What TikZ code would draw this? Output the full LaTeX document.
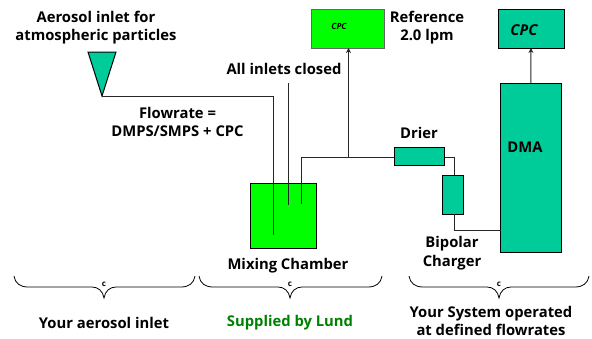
\documentclass[tikz,border=0pt]{standalone}
\usepackage{fontspec}
\setmainfont{Open Sans}
\usetikzlibrary{arrows.meta}
\definecolor{teal1}{RGB}{0,204,153}
\definecolor{lime1}{RGB}{0,255,0}
\definecolor{green1}{RGB}{0,128,0}
\tikzset{
 txt/.style={font=\fontsize{14.8}{18}\selectfont\bfseries,text=black,inner sep=0pt,align=center},
 boxed/.style={draw=black,line width=1pt,inner sep=0pt,outer sep=0pt},
 pipe/.style={draw=black!85,line width=1pt},
 arr/.style={pipe,-{Stealth[length=5pt,width=5pt]}},
 brc/.style={draw=black,line width=0.8pt}
}
\newcommand{\mybrace}[3]{% left, right, tip
 \draw[brc] (#1,276) .. controls (#1+1,283) and (#1+6,287) .. (#1+14,287) -- (#3-12,287)
   .. controls (#3-6,287) and (#3-1,291) .. (#3,298)
   .. controls (#3+1,291) and (#3+6,287) .. (#3+12,287) -- (#2-14,287)
   .. controls (#2-6,287) and (#2-1,283) .. (#2,276);
 \node[font=\fontsize{8}{9}\selectfont\bfseries,inner sep=0pt] at (#3,284) {c};
}
\begin{document}
\begin{tikzpicture}[x=1pt,y=-1pt]
\useasboundingbox (0,0) rectangle (592,338);
% boxes
\node[boxed,fill=lime1,minimum width=66pt,minimum height=65pt] (mix) at (283,215.5) {};
\node[boxed,fill=lime1,draw=black!60,minimum width=73pt,minimum height=39pt] (cpcA) at (347.5,28.5) {};
\node[font=\fontsize{8.5}{10}\selectfont\bfseries\itshape,inner sep=0pt] (cpcAt) at (339,26.5) {CPC};
\node[boxed,fill=teal1,minimum width=66pt,minimum height=39pt] (cpcB) at (531,28.5) {};
\node[font=\fontsize{15}{18}\selectfont\bfseries\itshape,inner sep=0pt] (cpcBt) at (524,30) {CPC};
\node[boxed,fill=teal1,minimum width=60.5pt,minimum height=169pt] (dma) at (530.75,167.5) {};
\node[txt] (dmat) at (525,147) {DMA};
\node[boxed,fill=teal1,minimum width=50.5pt,minimum height=18pt] (drier) at (419.25,156) {};
\node[boxed,fill=teal1,minimum width=21pt,minimum height=39pt] (charger) at (452.5,194.5) {};
% inlet
\coordinate (apex) at (102,96);
\coordinate (bend1) at (273,96);
\coordinate (in1) at (273,235);
\coordinate (in2t) at (288,83);
\coordinate (in2) at (288,205);
\coordinate (in3) at (301,204);
\coordinate (c3) at (301,157);
\coordinate (tee) at (348.5,157);
\coordinate (d1) at (454,157);
\coordinate (d2) at (454,214);
\coordinate (d3) at (454,230.5);
\coordinate (dmaL) at (500.5,230.5);
\draw[boxed,fill=teal1] (88,52) -- (116,52) -- (apex) -- cycle;
\draw[pipe] (apex) -- (bend1) -- (in1);
\draw[pipe] (in2t) -- (in2);
\draw[pipe] (in3) -- (c3) -- (drier.west |- c3);
\draw[arr] (tee) -- (cpcA.south -| tee);
\draw[pipe] (drier.east |- d1) -- (d1) -- (charger.north -| d1);
\draw[pipe] (charger.south -| d2) -- (d3) -- (dmaL);
\draw[arr] (dma.north) -- (cpcB.south);
% braces
\mybrace{14}{195}{104}
\mybrace{199}{382}{290}
\mybrace{409}{589}{499}
% text
\node[txt] (t1) at (96,28) {Aerosol inlet for\\atmospheric particles};
\node[txt] (t2) at (177.5,121.5) {Flowrate =\\DMPS/SMPS + CPC};
\node[txt] (t3) at (284,69) {All inlets closed};
\node[txt] (t4) at (427,28) {Reference\\2.0 lpm};
\node[txt] (t5) at (419,133) {Drier};
\node[txt] (t6) at (452,253) {Bipolar\\[1pt]Charger};
\node[txt] (t7) at (288,266) {Mixing Chamber};
\node[txt] (t8) at (104,323) {Your aerosol inlet};
\node[txt,text=green1] (t9) at (290,323) {Supplied by Lund};
\node[txt] (t10) at (491,321) {Your System operated\\at defined flowrates};
\end{tikzpicture}
\end{document}
